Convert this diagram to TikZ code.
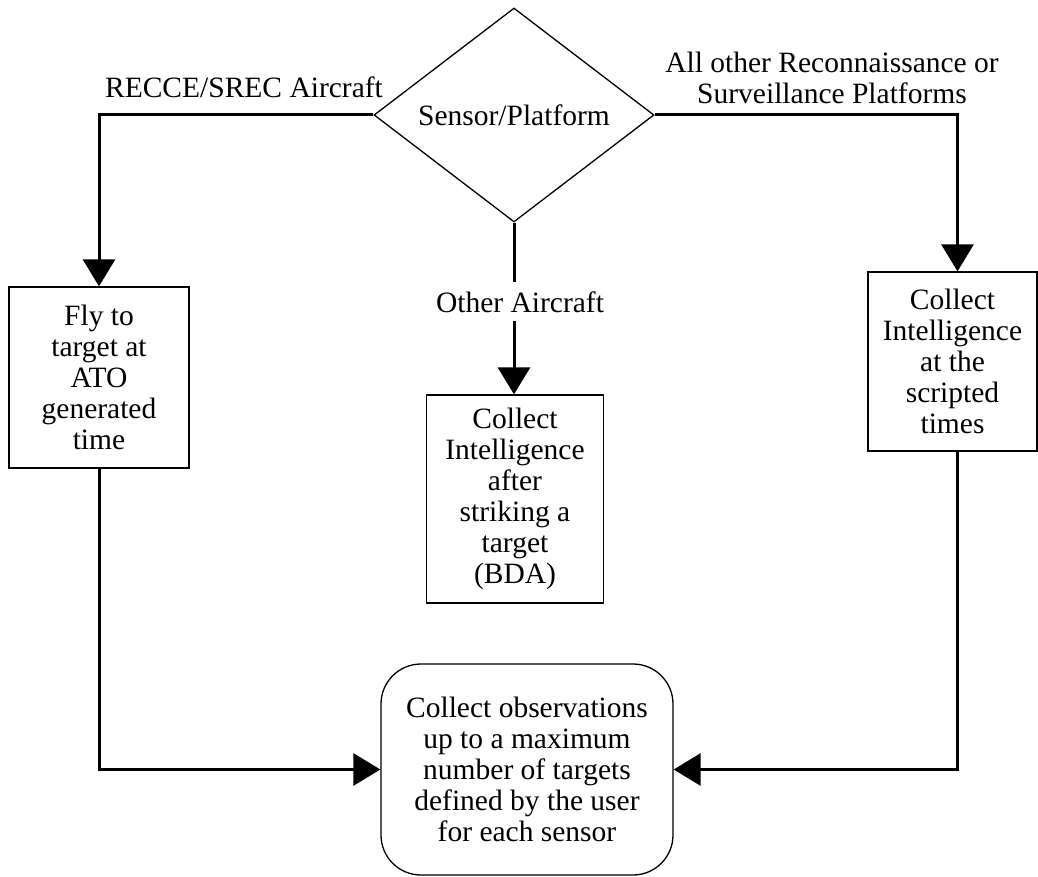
\documentclass[tikz,border=0pt]{standalone}
\usepackage{fontspec}
\setmainfont{Liberation Serif}
\usetikzlibrary{arrows.meta,shapes.geometric}
\begin{document}
\begin{tikzpicture}[x=1pt,y=-1pt,
  every node/.style={font=\fontsize{29.5}{31}\selectfont},
  box/.style={draw,line width=1.3pt,align=center,inner sep=0pt},
  decision/.style={draw,diamond,shape aspect=1.3,line width=1.3pt,
    minimum width=280pt,minimum height=214pt,inner sep=0pt},
  link/.style={line width=3pt},
  flow/.style={line width=3pt,-{Triangle[length=27pt,width=32pt]}}]
\useasboundingbox (0,0) rectangle (1038,877);

% decision
\node[decision] (dia) at (514,115) {Sensor/Platform};

% branch labels
\node[anchor=base] (lrecce) at (244,98) {RECCE/SREC Aircraft};
\node[align=center] (lother) at (832,78) {All other Reconnaissance or\\Surveillance Platforms};
\node[anchor=base,inner xsep=2pt,inner ysep=9pt] (lair) at (520,312) {Other Aircraft};

% activity boxes
\node[box,minimum width=180pt,minimum height=181pt] (fly) at (99,377.5)
  {Fly to\\target at\\ATO\\generated\\time};
\node[box,minimum width=177pt,minimum height=208pt] (bda) at (515,499)
  {Collect\\Intelligence\\after\\striking a\\target\\(BDA)};
\node[box,minimum width=169pt,minimum height=179pt] (scr) at (952.5,361.5)
  {Collect\\Intelligence\\at the\\scripted\\times};
\node[box,rounded corners=40pt,minimum width=292pt,minimum height=211pt] (obs) at (527,769.5)
  {Collect observations\\up to a maximum\\number of targets\\defined by the user\\for each sensor};

% connectors
\draw[flow] (dia.west) -| (fly.north);
\draw[flow] (dia.east) -| ([xshift=5pt]scr.north);
\draw[link] (dia.south) -- (dia.south |- lair.north);
\draw[flow] (dia.south |- lair.south) -- (dia.south |- bda.north);
\draw[flow] (fly.south) |- (obs.west);
\draw[flow] ([xshift=5pt]scr.south) |- (obs.east);
\end{tikzpicture}
\end{document}
